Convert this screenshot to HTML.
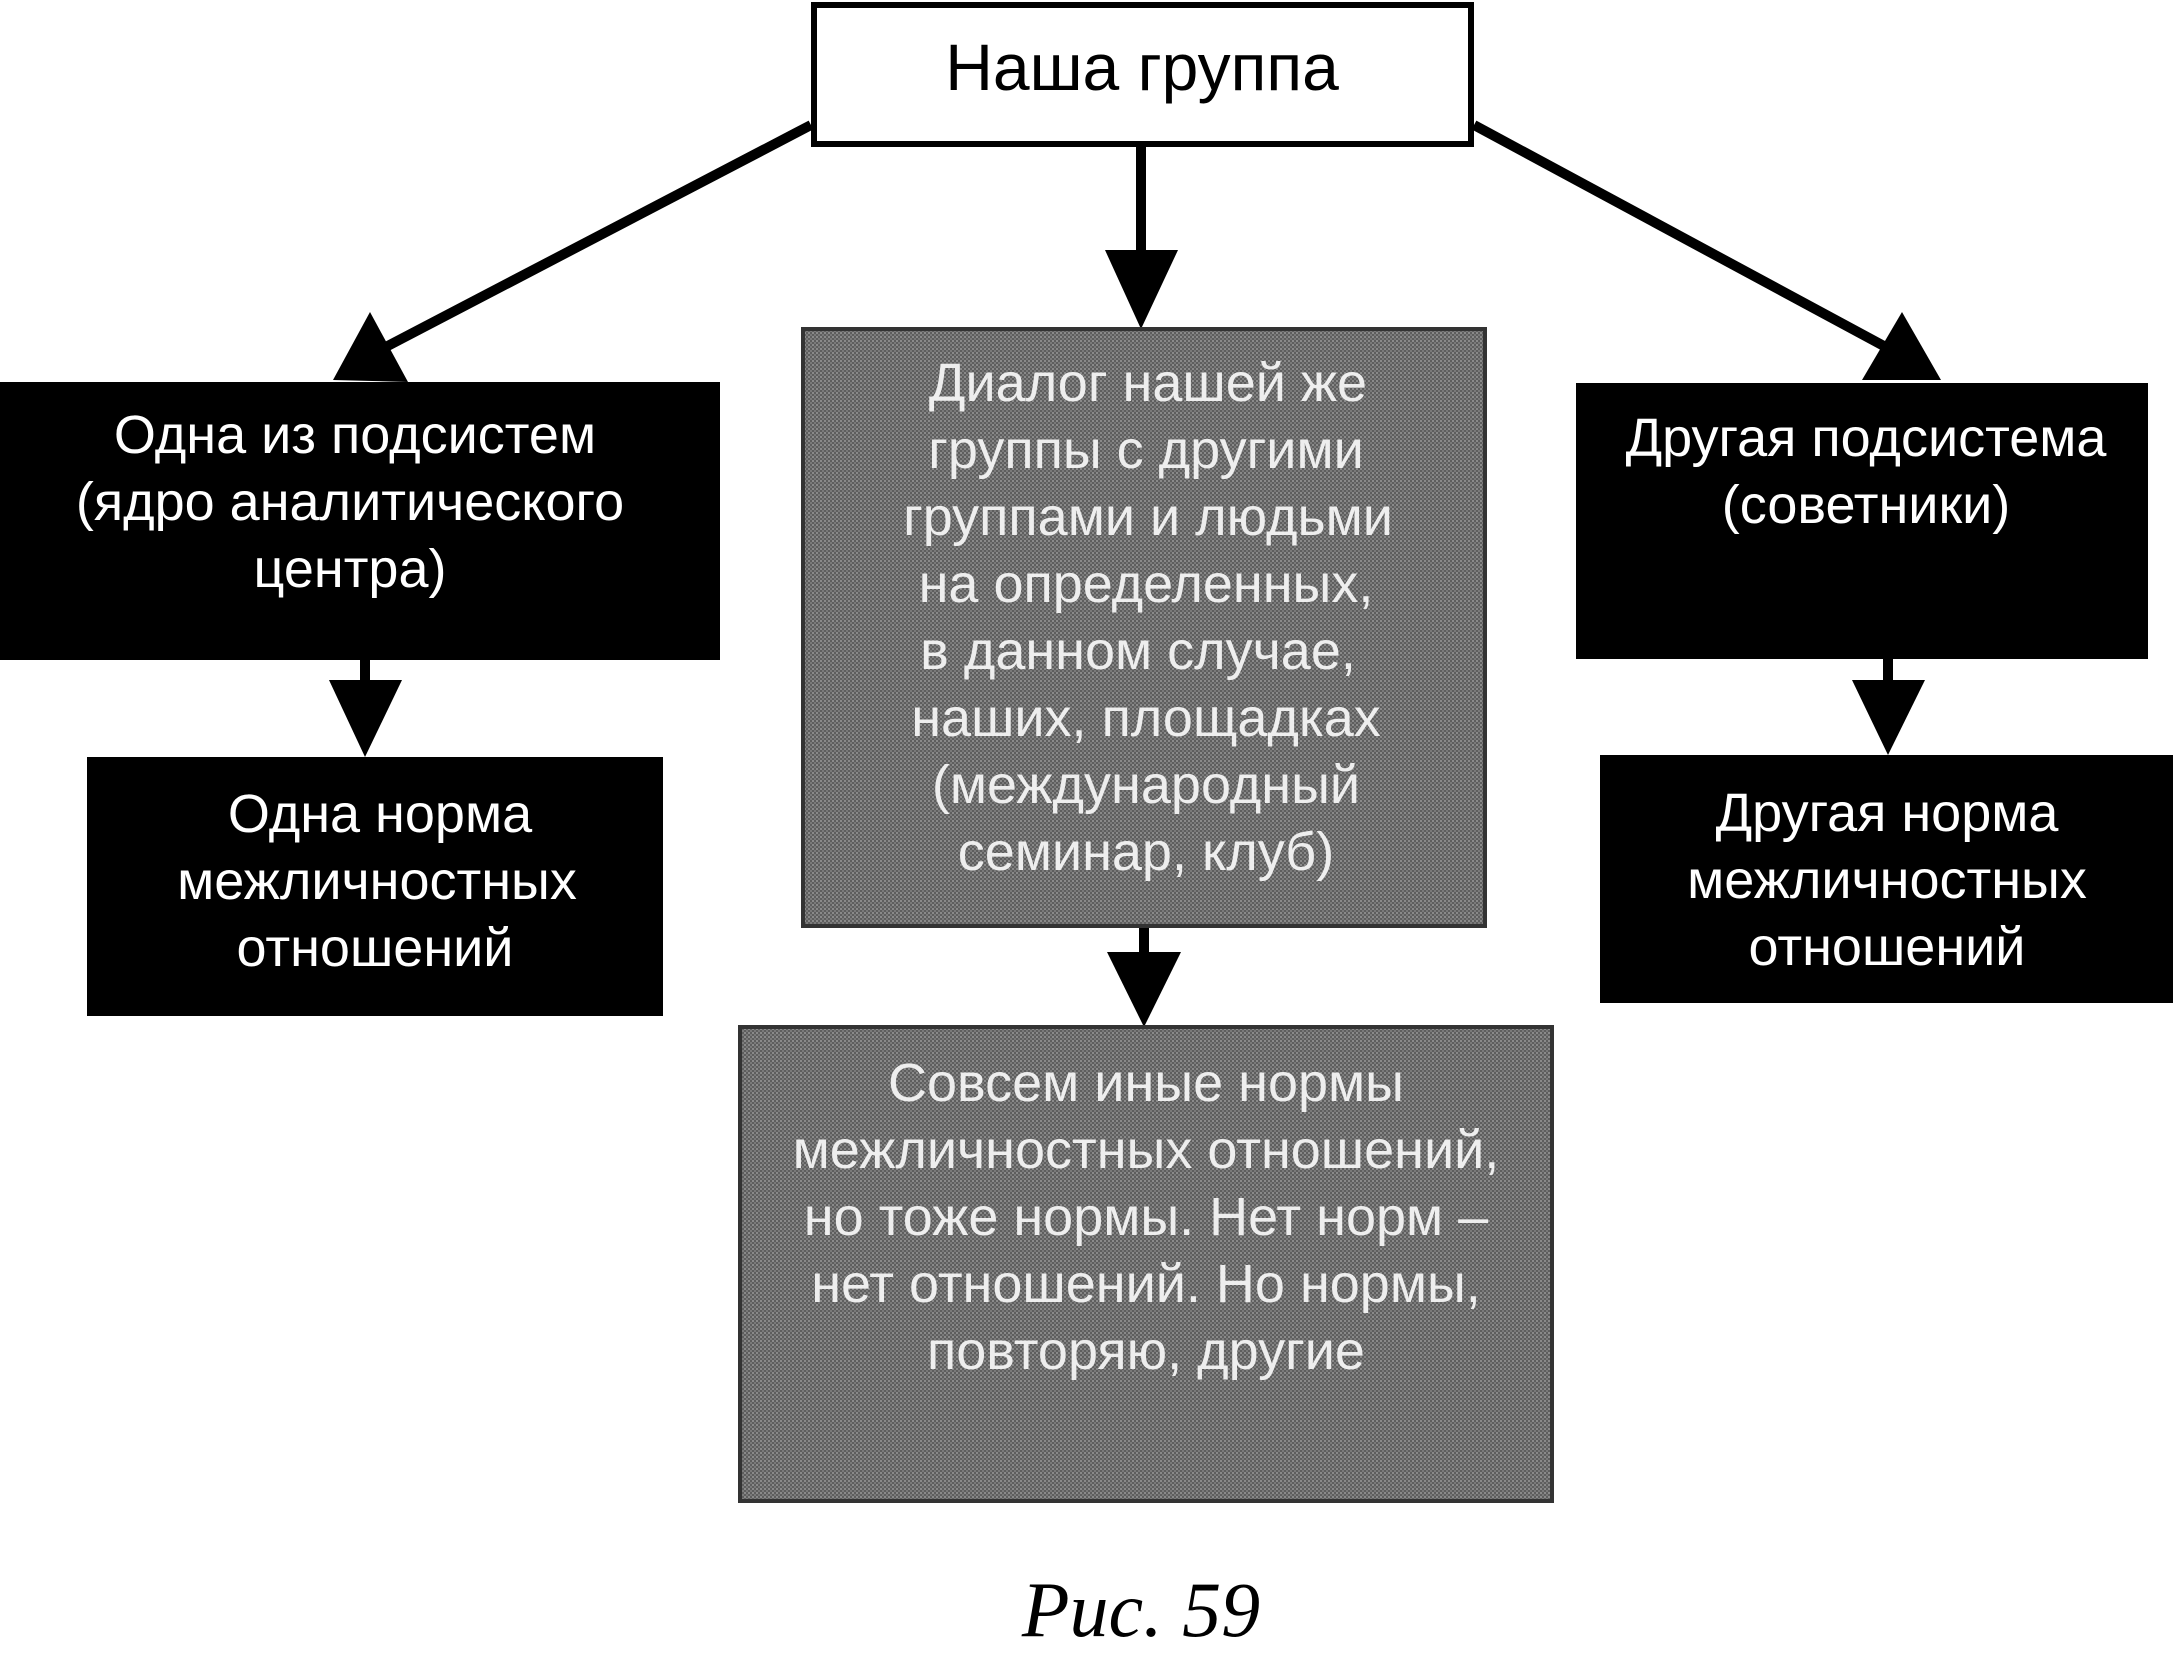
<!DOCTYPE html>
<html><head><meta charset="utf-8"><style>
html,body{margin:0;padding:0;background:#fff;}
svg{display:block}
text{font-family:"Liberation Sans",sans-serif;font-size:54px;text-anchor:middle}
.w{fill:#fff}
.g{fill:#eee;font-size:55px}
</style></head><body>
<svg width="2173" height="1654" viewBox="0 0 2173 1654" xmlns="http://www.w3.org/2000/svg">
<defs>
<pattern id="st" width="4" height="4" patternUnits="userSpaceOnUse">
<rect width="4" height="4" fill="#5e5e5e"/><rect width="2" height="2" fill="#8a8a8a"/><rect x="2" y="2" width="2" height="2" fill="#7a7a7a"/>
</pattern>
</defs>
<g stroke="#000" stroke-width="10" fill="none">
<line x1="811" y1="125" x2="380" y2="350"/>
<line x1="1474" y1="125" x2="1895" y2="352"/>
<line x1="1141" y1="147" x2="1141" y2="255"/>
<line x1="365" y1="660" x2="365" y2="690"/>
<line x1="1888" y1="659" x2="1888" y2="688"/>
<line x1="1144" y1="926" x2="1144" y2="955"/>
</g>
<g fill="#000">
<polygon points="333,380 370,312 408,382"/>
<polygon points="1941,380 1862,380 1902,312"/>
<polygon points="1105,250 1178,250 1141,329"/>
<polygon points="329,680 402,680 365,757"/>
<polygon points="1852,680 1925,680 1888,755"/>
<polygon points="1107,952 1181,952 1144,1027"/>
</g>
<rect x="814" y="5" width="657" height="139" fill="#fff" stroke="#000" stroke-width="6"/>
<text x="1142" y="90" style="font-size:66px">Наша группа</text>
<rect x="0" y="382" width="720" height="278" fill="#000"/>
<text class="w" x="355" y="453">Одна из подсистем</text>
<text class="w" x="350" y="520">(ядро аналитического</text>
<text class="w" x="350" y="587">центра)</text>
<rect x="87" y="757" width="576" height="259" fill="#000"/>
<text class="w" x="380" y="832">Одна норма</text>
<text class="w" x="377" y="899">межличностных</text>
<text class="w" x="375" y="966">отношений</text>
<rect x="1576" y="383" width="572" height="276" fill="#000"/>
<text class="w" x="1866" y="456">Другая подсистема</text>
<text class="w" x="1866" y="523">(советники)</text>
<rect x="1600" y="755" width="573" height="248" fill="#000"/>
<text class="w" x="1887" y="831">Другая норма</text>
<text class="w" x="1887" y="898">межличностных</text>
<text class="w" x="1887" y="965">отношений</text>
<rect x="803" y="329" width="682" height="597" fill="url(#st)" stroke="#333" stroke-width="4"/>
<g class="g">
<text x="1148" y="401">Диалог нашей же</text>
<text x="1146" y="468">группы с другими</text>
<text x="1148" y="535">группами и людьми</text>
<text x="1146" y="602">на определенных,</text>
<text x="1138" y="669">в данном случае,</text>
<text x="1146" y="736">наших, площадках</text>
<text x="1146" y="803">(международный</text>
<text x="1146" y="870">семинар, клуб)</text>
</g>
<rect x="740" y="1027" width="812" height="474" fill="url(#st)" stroke="#333" stroke-width="4"/>
<g class="g">
<text x="1146" y="1101">Совсем иные нормы</text>
<text x="1146" y="1168">межличностных отношений,</text>
<text x="1146" y="1235">но тоже нормы. Нет норм –</text>
<text x="1146" y="1302">нет отношений. Но нормы,</text>
<text x="1146" y="1369">повторяю, другие</text>
</g>
<text x="1141" y="1636" style="font-family:'Liberation Serif',serif;font-style:italic;font-size:78px">Рис. 59</text>
</svg>
</body></html>
